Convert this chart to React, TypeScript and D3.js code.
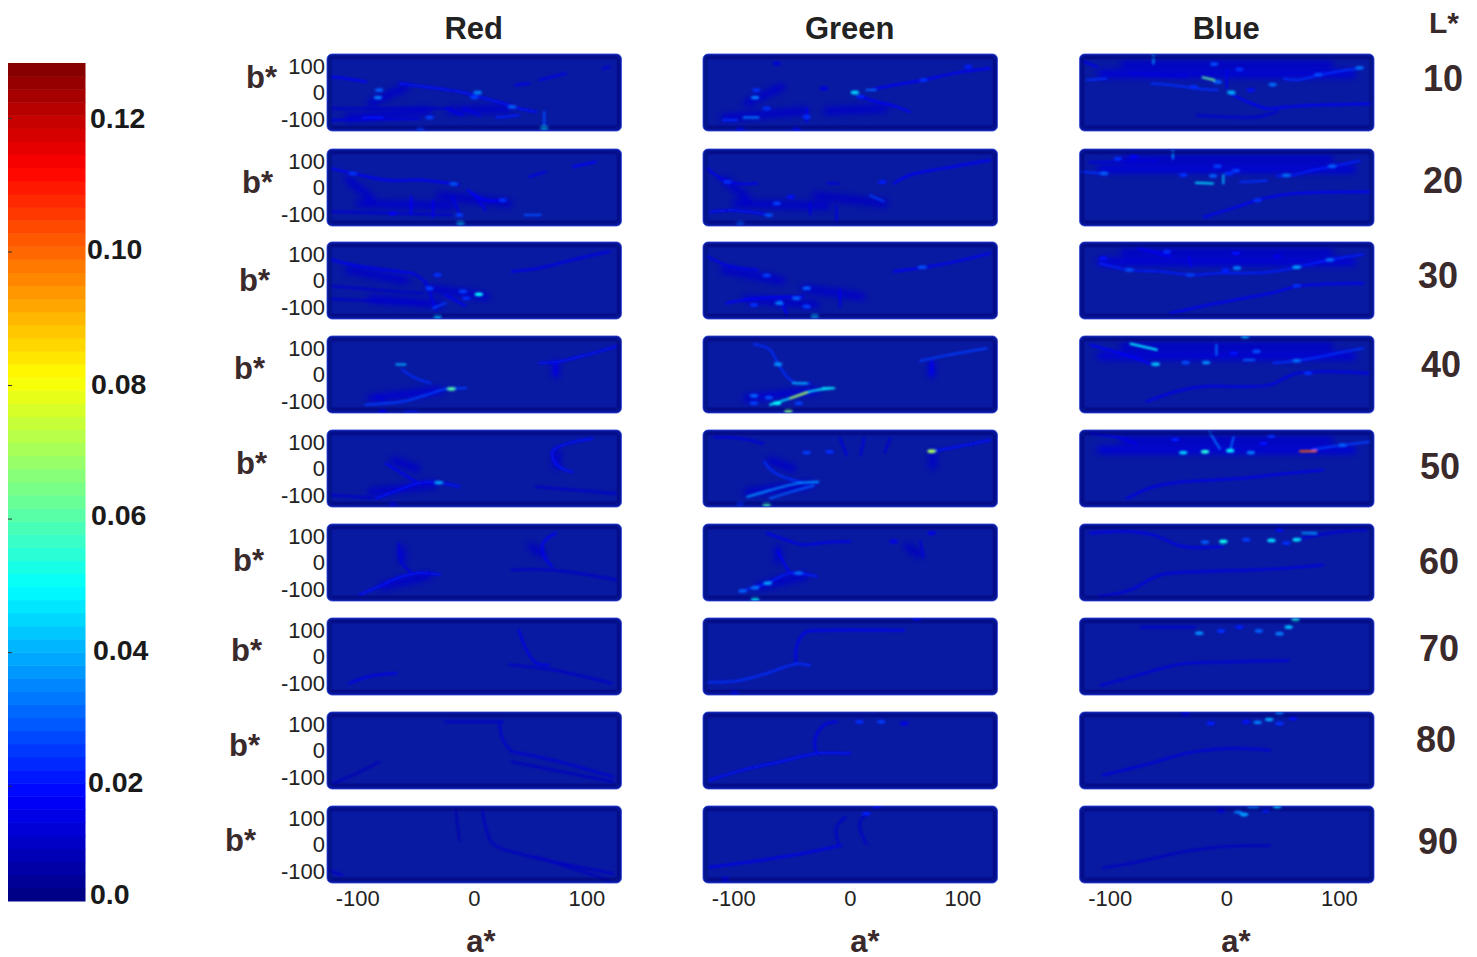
import React from "react";
import * as d3 from "d3";

type Pt = [number, number];
// [value, point, point, ...]; a single point is a small bright spot. Points are [a*, b*].
type Streak = [number, ...Pt[]];

const columns = ["Red", "Green", "Blue"];
const lightness = ["10", "20", "30", "40", "50", "60", "70", "80", "90"];
const aTicks = [-100, 0, 100];
const bTicks = [100, 0, -100];
const barTicks = ["0.12", "0.10", "0.08", "0.06", "0.04", "0.02", "0.0"];
const barTickValues = [0.12, 0.1, 0.08, 0.06, 0.04, 0.02, 0.003];

const red10: Streak[] = [
  [0.018, [-125, 59], [-106, 49], [-94, 40]],
  [0.02, [-65, 34], [-42, 21], [-25, 11], [-13, 3], [4, -16], [25, -41], [39, -60], [54, -73]],
  [0.03, [-83, 9]], [0.034, [-84, -19]], [0.034, [3, 0]], [0.026, [0, -19]], [0.03, [33, -54]],
  [0.028, [61, -73], [61, -136]], [0.045, [61, -132]], [0.026, [-47, -136]],
  [0.022, [-97, -94], [-80, -94]], [0.026, [-39, -94]], [0.022, [19, -94], [39, -86]],
  [0.016, [36, 28], [48, 34]], [0.016, [57, 47], [80, 72]], [0.014, [112, 90], [118, 97]],
  [0.012, [-125, -60], [-19, -60]], [0.014, [-125, -104], [-48, -98]],
  [0.016, [-25, -60], [-10, -85]], [0.016, [-10, -60], [5, -85]],
];
const red20: Streak[] = [
  [0.018, [-125, 72], [-106, 53], [-77, 28], [-48, 28], [-25, 18], [-13, 9]],
  [0.024, [-106, 53]], [0.028, [-18, 14]],
  [0.016, [48, 40], [62, 59]], [0.018, [86, 78], [106, 97]],
  [0.018, [-6, -10], [10, -48], [25, -48]], [0.024, [25, -48]],
  [0.026, [-13, -104]], [0.042, [-12, -133]], [0.028, [44, -104], [58, -104]],
  [0.018, [-55, -35], [-55, -98]], [0.016, [-36, -48], [-36, -110]], [0.016, [-19, -35], [-13, -98]],
  [0.016, [-1, -22], [10, -85]], [0.018, [-71, -98]], [0.013, [-125, -90], [-20, -104]],
];
const red30: Streak[] = [
  [0.017, [-125, 78], [-100, 53], [-77, 40], [-54, 28]],
  [0.016, [-54, 28], [-42, -10], [-36, -85], [-33, -110]],
  [0.016, [33, 34], [57, 47], [86, 78], [118, 109]],
  [0.05, [4, -52]], [0.026, [-10, -41]], [0.024, [-7, -67]], [0.024, [-32, 21]], [0.026, [-39, -29]],
  [0.026, [-36, -104], [-25, -85]], [0.042, [-32, -136]], [0.018, [-25, -55], [-8, -95]],
  [0.012, [-125, -22], [-45, -48]], [0.012, [-125, -70], [-45, -85]],
];
const red40: Streak[] = [
  [0.04, [-68, 38], [-60, 38]],
  [0.024, [-63, 18], [-51, -14], [-38, -33]],
  [0.026, [-95, -114], [-63, -102], [-42, -77], [-25, -55], [-7, -52]],
  [0.06, [-20, -54]], [0.022, [-50, -137], [-60, -137]], [0.018, [-80, -137]],
  [0.02, [57, 43], [74, 49], [98, 74], [124, 106]],
  [0.016, [71, 46], [71, 0]], [0.014, [-78, -100], [-85, -80]],
];
const red50: Streak[] = [
  [0.017, [-77, 19], [-65, -13], [-51, -50]],
  [0.02, [-86, -113], [-63, -76], [-48, -54], [-30, -54], [-13, -69]],
  [0.038, [-31, -53]],
  [0.02, [103, 113], [77, 88], [68, 63], [71, 19], [80, -6], [86, -13]],
  [0.012, [54, -69], [124, -94]], [0.02, [-71, -132]], [0.012, [-125, -100], [-90, -110]],
];
const red60: Streak[] = [
  [0.02, [-100, -122], [-80, -84], [-63, -53], [-48, -40], [-30, -46]],
  [0.014, [-66, 73], [-63, -3], [-54, -40]],
  [0.018, [71, 111], [60, 73], [61, 23], [68, -15]],
  [0.012, [33, -28], [68, -28], [124, -65]],
];
const red70: Streak[] = [
  [0.016, [-109, -101], [-92, -75], [-68, -63]],
  [0.016, [39, 100], [44, 38], [54, -25], [65, -31]],
  [0.012, [31, -31], [68, -50], [120, -101]],
];
const red80: Streak[] = [
  [0.012, [-25, 108], [25, 108]],
  [0.013, [22, 102], [25, 39], [33, -5]],
  [0.013, [33, -5], [68, -36], [121, -99]],
  [0.011, [33, -43], [121, -118]],
  [0.01, [-124, -125], [-106, -93], [-83, -43]],
];
const red90: Streak[] = [
  [0.009, [-16, 130], [-13, 16]],
  [0.011, [7, 130], [10, 67], [16, 4], [39, -34], [121, -109]],
  [0.011, [54, -46], [118, -135]],
  [0.012, [-127, -97], [-115, -116]],
];

const green10: Streak[] = [
  [0.045, [4, 0]], [0.03, [14, 9], [22, 9]], [0.022, [9, -16]],
  [0.018, [17, 9], [38, 28], [64, 47], [90, 72], [122, 91]],
  [0.022, [103, 97]], [0.024, [64, 47]],
  [0.018, [9, -16], [23, -35], [41, -54], [52, -73]],
  [0.034, [-83, -19]], [0.024, [-82, 9]], [0.034, [-93, -94], [-80, -94]],
  [0.024, [-111, -104], [-99, -104]], [0.024, [-73, -60]], [0.024, [-38, -92]],
  [0.017, [-38, -60], [-38, -110]], [0.02, [-47, -136]], [0.02, [-96, -136]],
  [0.015, [-23, 15]], [0.014, [-64, 109]],
];
const green20: Streak[] = [
  [0.016, [-125, 72], [-107, 21], [-81, 15]], [0.024, [-107, 21]],
  [0.02, [-122, -92], [-102, -86], [-70, -104]], [0.028, [-71, -104]], [0.03, [-96, -133]],
  [0.026, [-64, -60]], [0.02, [-52, -35]], [0.022, [28, 21]],
  [0.026, [17, -29], [29, -52]],
  [0.018, [38, 15], [52, 47], [81, 72], [122, 103]],
  [0.014, [-20, 15], [-10, 15]], [0.015, [-35, -60], [-35, -100]], [0.015, [-12, -70], [-12, -130]],
];
const green30: Streak[] = [
  [0.016, [-125, 91], [-105, 53], [-81, 40]],
  [0.026, [-73, 19]], [0.03, [-38, -29]], [0.034, [-62, -85]], [0.024, [-84, -92]], [0.03, [-47, -67]],
  [0.026, [-38, -98]], [0.042, [-31, -133]],
  [0.018, [-108, -85], [-81, -67], [-41, -60]],
  [0.018, [38, 34], [61, 47], [93, 72], [122, 103]], [0.028, [63, 50]],
  [0.016, [-9, -35], [-9, -98]], [0.018, [-61, -73], [-55, -130]],
];
const green40: Streak[] = [
  [0.024, [-84, 114], [-70, 93], [-63, 39], [-54, -14], [-47, -33], [-35, -33]],
  [0.036, [-63, 39]], [0.04, [-50, -33], [-38, -33]],
  [0.048, [-70, -114], [-52, -89], [-35, -64], [-17, -52]],
  [0.072, [-52, -89], [-38, -68]], [0.05, [-64, -108]], [0.048, [-24, -52], [-14, -52]],
  [0.065, [-54, -137]], [0.03, [-84, -80]], [0.028, [-71, -87]], [0.026, [-84, -108]], [0.026, [-45, -108]],
  [0.026, [61, 52], [84, 72], [119, 99]],
  [0.018, [71, 50], [71, 0]],
];
const green50: Streak[] = [
  [0.014, [-119, 119], [-96, 113], [-76, 94]],
  [0.024, [-75, 25], [-67, -13], [-44, -50], [-28, -53]],
  [0.036, [-90, -107], [-70, -82], [-47, -57], [-28, -50]],
  [0.03, [-70, -113], [-52, -88], [-32, -65]],
  [0.058, [-73, -136]], [0.025, [-96, -132]],
  [0.07, [71, 65]], [0.02, [71, 65], [93, 82], [122, 107]],
  [0.026, [-38, 60]], [0.024, [-18, 63]],
  [0.014, [-9, 113], [-3, 50]], [0.014, [12, 113], [9, 50]], [0.013, [35, 113], [30, 60]],
];
const green60: Streak[] = [
  [0.016, [-73, 111], [-52, 79], [-41, 67], [-17, 77], [0, 79]],
  [0.018, [-63, 42], [-57, -9], [-52, -40], [-45, -40]],
  [0.022, [-96, -109], [-73, -78], [-52, -40], [-29, -53]],
  [0.03, [-94, -107]], [0.032, [-83, -95]], [0.038, [-72, -78]], [0.032, [-45, -40]],
  [0.048, [-83, -137]], [0.014, [61, 80], [64, 20]], [0.016, [38, 79]], [0.016, [71, 111]],
];
const green70: Streak[] = [
  [0.024, [-125, -97], [-98, -91], [-74, -65], [-47, -28], [-35, -34]],
  [0.017, [-47, -28], [-47, 35], [-39, 92], [-23, 98], [47, 98]],
  [0.02, [58, 140]], [0.02, [-101, -135]],
];
const green80: Streak[] = [
  [0.02, [-123, -112], [-94, -74], [-62, -43], [-29, -11], [0, -11]],
  [0.016, [-29, -11], [-31, 39], [-23, 96], [-12, 108]],
  [0.024, [8, 108]], [0.026, [27, 108]], [0.016, [47, 102]],
];
const green90: Streak[] = [
  [0.016, [-123, -86], [-90, -67], [-43, -35], [-8, -4]],
  [0.012, [-10, -4], [-12, 65], [-4, 103]],
  [0.012, [14, 3], [8, 78], [14, 116]],
  [0.022, [14, 116]], [0.02, [23, 141]], [0.018, [-109, -130]],
];

const blue10: Streak[] = [
  [0.024, [-122, 47], [-105, 53]],
  [0.062, [-21, 57], [-11, 47]],
  [0.036, [-64, 141], [-64, 109]], [0.028, [-11, 107]], [0.04, [4, 0]], [0.024, [11, 87]],
  [0.032, [40, 30]], [0.03, [-8, 40]], [0.024, [-29, 21]], [0.02, [21, 9]],
  [0.024, [-66, 34], [-49, 28], [-26, 15], [-8, 9]],
  [0.018, [3, -4], [18, -35], [35, -60], [53, -54], [73, -48], [126, -42]],
  [0.024, [50, 53], [61, 47], [80, 65], [96, 78], [116, 91]],
  [0.032, [116, 93]], [0.028, [80, 67]],
  [0.016, [-125, 116], [-113, 97]], [0.016, [0, 85], [0, 15]],
  [0.013, [-26, -86], [26, -92], [44, -73]],
  [0.014, [-84, 72], [-35, 60]],
];
const blue20: Streak[] = [
  [0.024, [-128, 59], [-107, 53]], [0.03, [-107, 53]],
  [0.036, [-47, 140], [-47, 109]], [0.024, [-95, 109]], [0.018, [-81, 116]],
  [0.045, [-27, 18], [-12, 15]], [0.04, [-3, 47], [-3, 15]], [0.03, [-12, 44]], [0.026, [-8, 80]],
  [0.026, [8, 63]], [0.024, [2, 53]], [0.024, [12, 21], [35, 25]],
  [0.022, [44, 43], [58, 47], [75, 65], [93, 80], [116, 101]],
  [0.032, [52, 46]], [0.03, [92, 80]], [0.024, [-38, 47]],
  [0.018, [-20, -111], [9, -73], [26, -48], [53, -25], [125, -16]], [0.024, [27, -48]],
  [0.014, [-120, 95], [-60, 100]],
];
const blue30: Streak[] = [
  [0.022, [-111, 65], [-85, 40], [-58, 34], [-32, 21], [-6, 28], [20, 28], [41, 34], [61, 50], [90, 78], [119, 99]],
  [0.028, [-85, 40]], [0.026, [-32, 21]], [0.038, [61, 50]], [0.032, [90, 78]],
  [0.018, [-78, 122], [-49, 91]], [0.024, [-52, 109]], [0.034, [9, 47]], [0.022, [-1, 40]],
  [0.02, [8, 103]], [0.016, [44, 91]], [0.02, [-108, 84]], [0.016, [-33, 90], [-31, 55]],
  [0.017, [-49, -123], [-9, -86], [38, -48], [64, -20], [119, -10]], [0.024, [61, -20]],
];
const blue40: Streak[] = [
  [0.05, [-84, 116], [-61, 93]],
  [0.018, [-119, 112], [-84, 68], [-64, 36]],
  [0.042, [-62, 39]], [0.028, [-36, 45]], [0.036, [-18, 45]], [0.032, [-9, 112], [-9, 74]],
  [0.04, [16, 141]], [0.03, [15, 55], [24, 55]], [0.028, [26, 87]], [0.02, [6, 80]],
  [0.024, [41, 43], [61, 52], [76, 62], [96, 80], [119, 99]], [0.032, [61, 52]],
  [0.024, [71, 5]],
  [0.016, [-70, -102], [-44, -64], [-20, -45], [9, -45], [38, -39], [61, 5], [124, 5]],
];
const blue50: Streak[] = [
  [0.016, [-119, 132], [-96, 119], [-79, 94]],
  [0.044, [-38, 60]], [0.054, [-19, 63]], [0.048, [3, 67]], [0.034, [21, 60]],
  [0.1, [64, 65], [78, 65]],
  [0.032, [-15, 138], [-9, 94], [-6, 75]], [0.03, [6, 119], [3, 69]],
  [0.022, [-45, 109]], [0.024, [39, 122]], [0.02, [32, 94]],
  [0.026, [75, 72], [101, 88], [125, 101]], [0.03, [101, 88]],
  [0.016, [-87, -113], [-64, -69], [-38, -50], [9, -38], [52, -19], [84, -6]],
];
const blue60: Streak[] = [
  [0.016, [-119, 111], [-84, 117], [-64, 104], [-38, 60], [-3, 60]],
  [0.052, [-3, 79]], [0.03, [-19, 77]], [0.046, [39, 83]], [0.046, [61, 86]],
  [0.036, [66, 111], [78, 111]], [0.026, [17, 86]], [0.024, [52, 73]], [0.02, [46, 123]],
  [0.014, [61, 86], [90, 111], [122, 123]],
  [0.015, [-111, -128], [-84, -103], [-58, -47], [-20, -34], [38, -25], [84, -9]],
];
const blue70: Streak[] = [
  [0.014, [-110, -109], [-79, -72], [-40, -28], [0, -21], [54, -15]],
  [0.036, [-24, 88]], [0.024, [-5, 96]], [0.03, [28, 96]], [0.034, [46, 86]], [0.042, [54, 111]],
  [0.052, [60, 138]], [0.022, [11, 111]], [0.013, [-75, 110], [-28, 110]],
];
const blue80: Streak[] = [
  [0.014, [-108, -93], [-67, -49], [-36, -11], [0, 8], [38, 1]],
  [0.034, [27, 106]], [0.038, [37, 117]], [0.02, [17, 108]], [0.022, [-14, 102]], [0.024, [46, 102]],
  [0.02, [58, 121]], [0.034, [46, 140]], [0.018, [-36, 137]],
];
const blue90: Streak[] = [
  [0.011, [-108, -88], [-79, -67], [-40, -29], [-9, -10], [38, -4]],
  [0.038, [15, 113]], [0.034, [10, 123]], [0.036, [19, 138], [27, 138]], [0.042, [44, 141]],
  [0.022, [34, 128]], [0.016, [-5, 128]],
];

// Broad, faint haze behind the streaks in the busiest panels.
const haze10: Streak[] = [[0.012, [-110, -95], [-40, -70]], [0.012, [-60, 20], [-90, -40]], [0.012, [-20, -70], [30, -60]]];
const haze20: Streak[] = [[0.012, [-100, -60], [-20, -70]], [0.011, [-30, -30], [30, -60]], [0.012, [-110, 30], [-90, -40]]];
const haze30: Streak[] = [[0.012, [-90, -70], [-30, -90]], [0.012, [-40, -30], [10, -60]], [0.012, [-110, 40], [-60, 0]]];
const haze40: Streak[] = [[0.013, [-90, -90], [-30, -60]], [0.013, [71, 40], [71, 0]]];
const haze50: Streak[] = [[0.012, [-90, -90], [-35, -60]], [0.012, [72, 60], [72, 10]], [0.012, [-70, 30], [-50, 0]]];
const haze60: Streak[] = [[0.012, [-80, -90], [-40, -50]], [0.012, [-63, 50], [-63, 10]], [0.011, [50, 60], [60, 30]]];
const hazeBlueTop: Streak[] = [[0.014, [-110, 70], [110, 70]], [0.012, [-90, 105], [90, 105]]];
const hazeNone: Streak[] = [];

const streakTable = [
  [red10, red20, red30, red40, red50, red60, red70, red80, red90],
  [green10, green20, green30, green40, green50, green60, green70, green80, green90],
  [blue10, blue20, blue30, blue40, blue50, blue60, blue70, blue80, blue90],
];
const hazeTable = [
  [haze10, haze20, haze30, haze40, haze50, haze60, hazeNone, hazeNone, hazeNone],
  [haze10, haze20, haze30, haze40, haze50, haze60, hazeNone, hazeNone, hazeNone],
  [hazeBlueTop, hazeBlueTop, hazeBlueTop, hazeBlueTop, hazeBlueTop, hazeNone, hazeNone, hazeNone, hazeNone],
];

// Layout
const panelLefts = [327, 703, 1079.5];
const panelTops = [54, 149, 242, 336, 430, 524, 618, 712, 806];
const panelW = 294.5;
const panelH = 77;
const bStarX = [246, 242, 239, 234, 236, 233, 231, 229, 225];
const bStarY = [88, 193, 291, 379, 474, 571, 661, 756, 851];
const lX = [1423, 1423, 1418, 1421, 1420, 1419, 1419, 1416, 1418];
const lY = [91, 193, 288, 377, 479, 574, 661, 752, 854];
const aStarX = [481, 865, 1236];
const barTickX = [90, 87, 91, 91, 93, 88, 90];
const barTickY = [128, 259, 394, 525, 660, 792, 904];

const xScale = d3.scaleLinear().domain([-128.5, 128.5]).range([0, panelW]);
const yScale = d3.scaleLinear().domain([-145, 145]).range([panelH, 0]);
const barY = d3.scaleLinear().domain([0.0028, 0.1283]).range([901, 63]);

function jet(t: number) {
  const c = (x: number) => Math.max(0, Math.min(1, x));
  const r = c(Math.min(4 * t - 1.5, -4 * t + 4.5));
  const g = c(Math.min(4 * t - 0.5, -4 * t + 3.5));
  const b = c(Math.min(4 * t + 0.5, -4 * t + 2.5));
  return d3.rgb(r * 255, g * 255, b * 255).formatHex();
}
const valueToFrac = d3.scaleLinear().domain(barY.domain()).range([0, 1]).clamp(true);
const colorOf = (v: number) => jet(valueToFrac(v));

const bandEdges = d3.range(65).map((i) => i / 64);
const lineGen = d3
  .line<Pt>()
  .x((p) => xScale(p[0]))
  .y((p) => yScale(p[1]))
  .curve(d3.curveCatmullRom.alpha(0.5));

const FONT = "'Liberation Sans', Arial, sans-serif";
const INK = "#3a2a2b";

function Marks({ data, width }: { data: Streak[]; width: number }) {
  const sorted = [...data].sort((p, q) => p[0] - q[0]);
  return (
    <>
      {sorted.map((s, i) => {
        const pts = s.slice(1) as Pt[];
        if (pts.length === 1) {
          return <ellipse key={i} cx={xScale(pts[0][0])} cy={yScale(pts[0][1])} rx={4.2} ry={1.9} fill={colorOf(s[0])} />;
        }
        return (
          <path key={i} d={lineGen(pts) || ""} fill="none" stroke={colorOf(s[0])} strokeWidth={width} strokeLinecap="round" strokeLinejoin="round" />
        );
      })}
    </>
  );
}

export default function App() {
  return (
    <svg width={1477} height={957} style={{ position: "absolute", left: 0, top: 0, background: "#fff", fontFamily: FONT }}>
      <defs>
        <filter id="soft" x="-20" y="-20" width="340" height="120" filterUnits="userSpaceOnUse">
          <feGaussianBlur stdDeviation="0.85" />
        </filter>
        <filter id="wide" x="-20" y="-20" width="340" height="120" filterUnits="userSpaceOnUse">
          <feGaussianBlur stdDeviation="3.2" />
        </filter>
        <filter id="edge" x="-20" y="-20" width="340" height="120" filterUnits="userSpaceOnUse">
          <feGaussianBlur stdDeviation="0.9" />
        </filter>
        <clipPath id="panelClip">
          <rect width={panelW} height={panelH} rx={5} ry={5} />
        </clipPath>
      </defs>

      {/* colour bar */}
      <g>
        {bandEdges.slice(0, -1).map((t, i) => {
          const y0 = 901 - (901 - 63) * t;
          const y1 = 901 - (901 - 63) * bandEdges[i + 1];
          return <rect key={i} x={8} y={y1} width={77.5} height={y0 - y1 + 0.5} fill={jet((i + 0.5) / 64)} />;
        })}
        {barTickValues.slice(0, -1).map((v, i) => (
          <line key={i} x1={8} x2={12} y1={barY(v)} y2={barY(v)} stroke="#333" strokeWidth={1} />
        ))}
        {barTicks.map((t, i) => (
          <text key={t} x={barTickX[i]} y={barTickY[i]} fontSize={28.5} fontWeight={700} fill="#1a1a1a">
            {t}
          </text>
        ))}
      </g>

      {/* column titles */}
      {columns.map((c, i) => (
        <text key={c} x={panelLefts[i] + panelW / 2 - 0.5} y={39} fontSize={31} fontWeight={700} textAnchor="middle" fill="#222">
          {c}
        </text>
      ))}
      <text x={1429} y={33} fontSize={30} fontWeight={700} fill={INK}>
        L*
      </text>

      {/* panels */}
      {columns.map((c, ci) =>
        panelTops.map((top, ri) => (
          <g key={c + ri} transform={`translate(${panelLefts[ci]},${top})`}>
            <g clipPath="url(#panelClip)">
              <rect width={panelW} height={panelH} fill="#0819a2" />
              <g filter="url(#wide)">
                <Marks data={hazeTable[ci][ri]} width={7} />
              </g>
              <g filter="url(#soft)">
                <Marks data={streakTable[ci][ri]} width={2} />
              </g>
              <g filter="url(#edge)">
                <rect x={3} y={3.6} width={panelW - 6} height={panelH - 7.4} rx={2} fill="none" stroke="#000a70" strokeWidth={2} opacity={0.85} />
              </g>
            </g>
            <rect x={0} y={0} width={panelW} height={panelH} rx={5} ry={5} fill="none" stroke="#2a3fd0" strokeWidth={1} opacity={0.8} />
            {ci === 0 &&
              bTicks.map((t) => (
                <text key={t} x={-2} y={yScale(t)} dy="0.36em" fontSize={22} textAnchor="end" fill="#222">
                  {t}
                </text>
              ))}
            {ri === panelTops.length - 1 &&
              aTicks.map((t) => (
                <text key={t} x={xScale(t) + (t < 0 ? -2 : t > 0 ? -2 : 0)} y={panelH + 15} dy="0.36em" fontSize={22} textAnchor="middle" fill="#222">
                  {t}
                </text>
              ))}
          </g>
        ))
      )}

      {/* row labels */}
      {lightness.map((l, i) => (
        <g key={l}>
          <text x={bStarX[i]} y={bStarY[i]} fontSize={31} fontWeight={700} fill={INK}>
            b*
          </text>
          <text x={lX[i]} y={lY[i]} fontSize={36} fontWeight={700} fill={INK}>
            {l}
          </text>
        </g>
      ))}
      {aStarX.map((x, i) => (
        <text key={i} x={x} y={952} fontSize={31} fontWeight={700} textAnchor="middle" fill={INK}>
          a*
        </text>
      ))}
    </svg>
  );
}
